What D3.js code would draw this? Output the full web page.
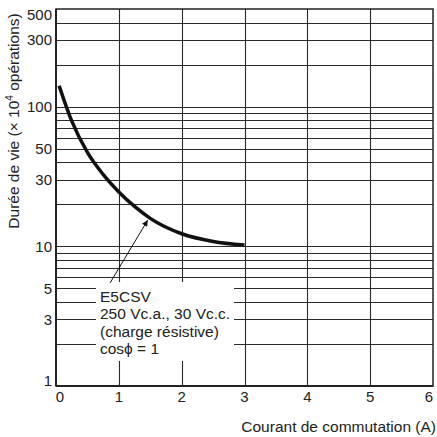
<html>
<head>
    <script src="https://d3js.org/d3.v7.min.js" charset="utf-8"></script>
    <style>
        body { margin: 0; background: #fff; }
        text { font-family: "Liberation Sans", Arial, Helvetica, sans-serif; fill: #222; }
    </style>
</head>

<body>
    <script type="text/javascript">
        var width = 437;
        var height = 437;

        // Chart data
        var currentA = [0.05, 0.25, 0.5, 0.75, 1.0, 1.25, 1.5, 2.0, 2.5, 3.0];
        var lifeOps = [141, 79, 47, 32.7, 24.5, 19.3, 15.85, 12.3, 10.84, 10.2];

        var xTicks = [0, 1, 2, 3, 4, 5, 6];
        var yTicks = [1, 3, 5, 10, 30, 50, 100, 300, 500];
        var yGrid = [2, 3, 4, 5, 6, 7, 8, 9, 10, 20, 30, 40, 50, 60, 70, 80, 90, 100, 200, 300, 400];

        var noteLines = ["E5CSV", "250 Vc.a., 30 Vc.c.", "(charge résistive)", "cosϕ = 1"];

        var plot = { left: 56, right: 433, top: 9, bottom: 386 };

        const svg = d3.select("body").append("svg")
            .attr("width", width)
            .attr("height", height);

        var xScale = d3.scaleLinear()
            .domain([0, 6])
            .range([plot.left, plot.right]);

        var yScale = d3.scaleLog()
            .domain([1, 500])
            .range([plot.bottom, plot.top]);

        // Grid
        var grid = svg.append("g").attr("stroke", "#2a2a2a").attr("stroke-width", 1.1);

        grid.selectAll("line.h")
            .data(yGrid)
            .join("line")
                .attr("class", "h")
                .attr("x1", plot.left)
                .attr("x2", plot.right)
                .attr("y1", d => Math.round(yScale(d)) + 0.5)
                .attr("y2", d => Math.round(yScale(d)) + 0.5);

        grid.selectAll("line.v")
            .data(xTicks.slice(1, -1))
            .join("line")
                .attr("class", "v")
                .attr("x1", d => Math.round(xScale(d)) + 0.5)
                .attr("x2", d => Math.round(xScale(d)) + 0.5)
                .attr("y1", plot.top)
                .attr("y2", plot.bottom);

        // White box behind the note
        svg.append("rect")
            .attr("x", 96)
            .attr("y", 282)
            .attr("width", 138)
            .attr("height", 79)
            .attr("fill", "#fff");

        // Frame
        svg.append("rect")
            .attr("x", plot.left)
            .attr("y", plot.top)
            .attr("width", plot.right - plot.left)
            .attr("height", plot.bottom - plot.top)
            .attr("fill", "none")
            .attr("stroke", "#222")
            .attr("stroke-width", 1.5);

        svg.append("line")
            .attr("x1", plot.left).attr("x2", plot.right)
            .attr("y1", plot.bottom).attr("y2", plot.bottom)
            .attr("stroke", "#222").attr("stroke-width", 2);
        svg.append("line")
            .attr("x1", plot.left).attr("x2", plot.left)
            .attr("y1", plot.top).attr("y2", plot.bottom)
            .attr("stroke", "#222").attr("stroke-width", 2);

        // Curve
        var pts = currentA.map((x, i) => [x, lifeOps[i]]);
        var line = d3.line()
            .x(d => xScale(d[0]))
            .y(d => yScale(d[1]))
            .curve(d3.curveMonotoneX);

        svg.append("path")
            .datum(pts)
            .attr("d", line)
            .attr("fill", "none")
            .attr("stroke", "#111")
            .attr("stroke-width", 3.5)
            .attr("stroke-linecap", "butt");

        // Arrow pointing at the curve
        svg.append("defs").append("marker")
            .attr("id", "head")
            .attr("viewBox", "0 0 10 10")
            .attr("refX", 10)
            .attr("refY", 5)
            .attr("markerWidth", 9)
            .attr("markerHeight", 6)
            .attr("markerUnits", "userSpaceOnUse")
            .attr("orient", "auto")
            .append("path")
                .attr("d", "M0,0L10,5L0,10z")
                .attr("fill", "#111");

        svg.append("line")
            .attr("x1", 110).attr("y1", 283)
            .attr("x2", xScale(1.46)).attr("y2", yScale(16.2) + 3)
            .attr("stroke", "#111")
            .attr("stroke-width", 1)
            .attr("marker-end", "url(#head)");

        // Note text
        svg.append("g").selectAll("text")
            .data(noteLines)
            .join("text")
                .attr("x", 100)
                .attr("y", (d, i) => 302 + i * 17.4)
                .attr("font-size", "15.5px")
                .text(d => d);

        // Tick labels
        svg.append("g").selectAll("text")
            .data(yTicks)
            .join("text")
                .attr("x", 52)
                .attr("y", d => Math.max(15, Math.min(381, yScale(d))))
                .attr("dy", "0.36em")
                .attr("text-anchor", "end")
                .attr("font-size", "15px")
                .text(d => d);

        svg.append("g").selectAll("text")
            .data(xTicks)
            .join("text")
                .attr("x", d => Math.max(60, Math.min(429, xScale(d))))
                .attr("y", 397)
                .attr("dy", "0.36em")
                .attr("text-anchor", "middle")
                .attr("font-size", "15px")
                .text(d => d);

        // Axis titles
        svg.append("text")
            .attr("x", 436)
            .attr("y", 432)
            .attr("text-anchor", "end")
            .attr("font-size", "15.5px")
            .text("Courant de commutation (A)");

        var yTitle = svg.append("text")
            .attr("transform", "translate(19,121) rotate(-90)")
            .attr("text-anchor", "middle")
            .attr("font-size", "15.5px");
        yTitle.append("tspan").text("Durée de vie (× 10");
        yTitle.append("tspan").attr("dy", -6).attr("font-size", "10px").text("4");
        yTitle.append("tspan").attr("dy", 6).text(" opérations)");
    </script>
</body>
</html>
